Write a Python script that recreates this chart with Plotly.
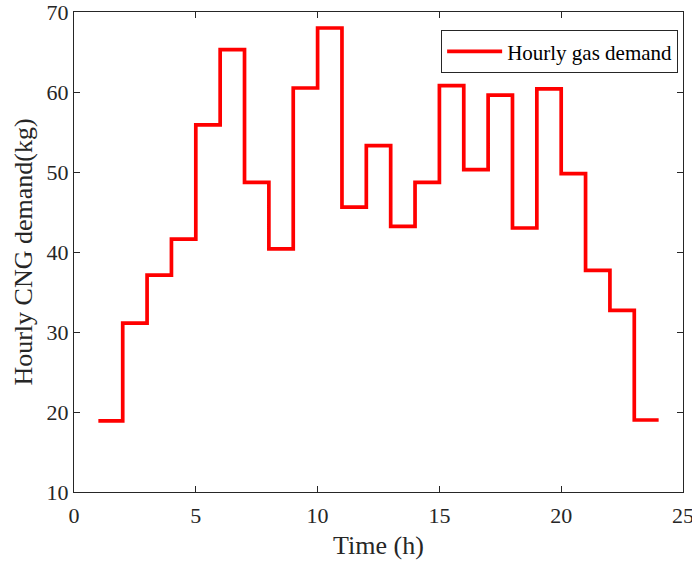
import plotly.graph_objects as go

hours = list(range(1, 25))
demand = [18.9, 31.1, 37.1, 41.6, 55.9, 65.3, 48.7, 40.4, 60.5, 68.0, 45.6, 53.3,
          43.2, 48.7, 60.8, 50.3, 59.6, 43.0, 60.4, 49.8, 37.7, 32.7, 19.0, 19.0]
x_ticks = [0, 5, 10, 15, 20, 25]
y_ticks = [10, 20, 30, 40, 50, 60, 70]

FONT = "Liberation Serif, Times New Roman, serif"
AX = "#262626"

fig = go.Figure()
fig.add_trace(go.Scatter(x=hours, y=demand, mode="lines", line_shape="hv",
                         line=dict(color="#ff0000", width=3.7),
                         name="Hourly gas demand"))

axis_common = dict(showline=True, linecolor=AX, linewidth=1, mirror="ticks",
                   ticks="inside", ticklen=6, tickcolor=AX, showgrid=False,
                   zeroline=False, ticklabeloverflow="allow", automargin=False,
                   tickfont=dict(family=FONT, size=22, color=AX))

fig.update_layout(
    width=692, height=564,
    margin=dict(l=74, r=9, t=12, b=72),
    plot_bgcolor="white", paper_bgcolor="white",
    font=dict(family=FONT, color=AX),
    xaxis=dict(range=[0, 25], tickvals=x_ticks, ticklabelstandoff=4,
               title=dict(text="Time (h)", font=dict(family=FONT, size=26, color=AX), standoff=8),
               **axis_common),
    yaxis=dict(range=[10, 70], tickvals=y_ticks,
               title=dict(text="Hourly CNG demand(kg)", font=dict(family=FONT, size=26, color=AX), standoff=6),
               **axis_common),
    showlegend=True,
    legend=dict(x=0.992, y=0.962, xanchor="right", yanchor="top",
                bgcolor="white", bordercolor="#262626", borderwidth=1,
                font=dict(family=FONT, size=21, color="black"),
                itemwidth=55),
)

fig.write_html("out.html")
